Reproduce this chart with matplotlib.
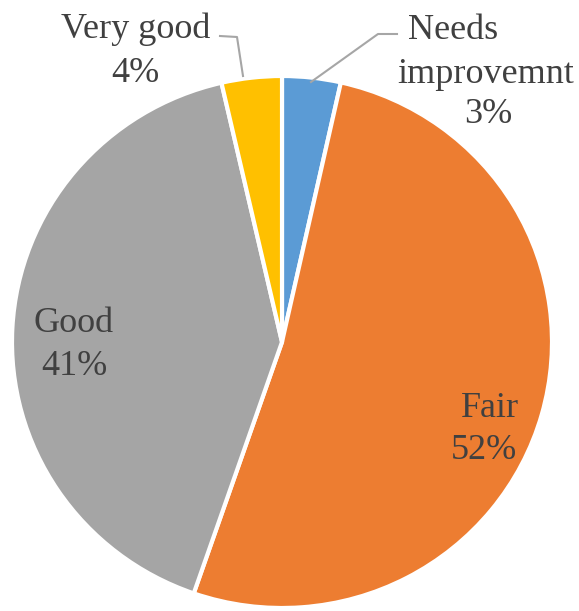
import matplotlib.pyplot as plt

# ── Data ───────────────────────────────────────────────────
categories = ["Needs improvemnt", "Fair", "Good", "Very good"]
shares = [3.5, 51.8, 41.1, 3.6]
pct_text = ["3%", "52%", "41%", "4%"]
colors = ["#5B9BD5", "#ED7D31", "#A5A5A5", "#FFC000"]

plt.rcParams["font.family"] = ["Liberation Serif", "DejaVu Serif"]

W, H = 579, 611
RX, RY = 270, 266                         # pie is slightly wider than tall
K = RX / RY


def pt(x, y):
    """pixel position (y from top) -> data coords"""
    return x, (H - y) * K


fig = plt.figure(figsize=(W / 100, H / 100), dpi=100)
ax = fig.add_axes([0, 0, 1, 1])

ax.pie(shares, colors=colors, startangle=90, counterclock=False,
       center=pt(282, 342), radius=RX, frame=True,
       wedgeprops=dict(edgecolor="white", linewidth=3))
ax.set_aspect("auto")
ax.set_xlim(0, W)
ax.set_ylim(0, H * K)
ax.axis("off")

fs = 26
txt = "#404040"

# label lines: (text, centre x, baseline y)
lines = [
    ("Needs", 453, 39), ("improvemnt", 486, 83), (pct_text[0], 488, 123),
    (categories[1], 490, 417), (pct_text[1], 484, 459),
    (categories[2], 74, 332), (pct_text[2], 74, 375),
    (categories[3], 136, 38), (pct_text[3], 135, 82),
]
for s, x, y in lines:
    ax.text(*pt(x, y), s, ha="center", va="baseline", fontsize=fs, color=txt)

# leader lines
lx, ly = zip(pt(220, 36), pt(237, 37), pt(243, 76))
ax.plot(lx, ly, color="#A6A6A6", lw=1.5)
lx, ly = zip(pt(397, 34), pt(378, 34), pt(311, 82))
ax.plot(lx, ly, color="#A6A6A6", lw=1.5)

fig.savefig("out.png", dpi=100, facecolor="white")
